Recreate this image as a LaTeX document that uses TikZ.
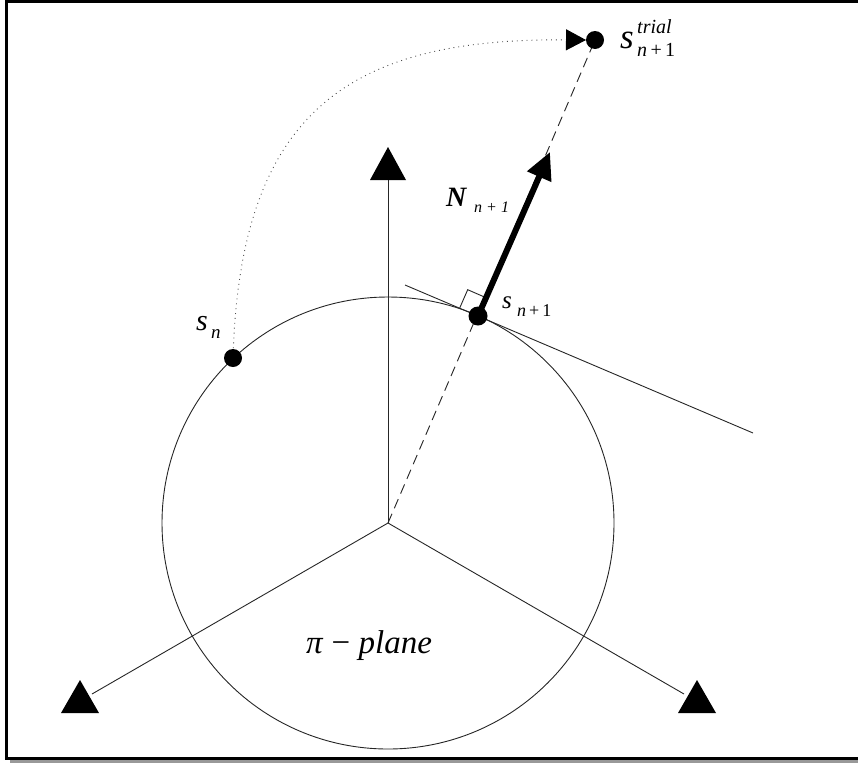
\documentclass[tikz,border=0pt]{standalone}
\usepackage{fontspec}
\setmainfont{Liberation Serif}
\usetikzlibrary{arrows.meta,calc}
\begin{document}
\begin{tikzpicture}[x=1pt,y=-1pt,
  thinline/.style={line width=0.9pt, draw=black!85},
  dot/.style={circle, fill=black, inner sep=0pt, minimum size=19pt},
  lbl/.style={inner sep=0pt, anchor=base west},
  tri/.style={fill=black}
]
\useasboundingbox (0,0) rectangle (858,763);
% frame with shadow
\fill[black!40] (10,759.5) rectangle (862,763);
\draw[line width=3pt] (6,1) rectangle (860,758);

\coordinate (O) at (388,523);
\coordinate (P) at (478,316);
\coordinate (Sn) at (233,358);
\coordinate (T) at (595,40);
\coordinate (Aup) at (388,180);
\coordinate (All) at (92,694);
\coordinate (Alr) at (684,694);
\coordinate (TanA) at (405,285);
\coordinate (TanB) at (753,433);
\coordinate (Ntip) at (550,152);

% circle
\draw[thinline] (O) circle[radius=226];
% axes
\draw[thinline] (O) -- (Aup);
\draw[thinline] (O) -- (All);
\draw[thinline] (O) -- (Alr);
\fill[tri] (388,147) -- (406,180) -- (370,180) -- cycle;
\fill[tri] (80,680) -- (99,713) -- (61,713) -- cycle;
\fill[tri] (697,680) -- (716,713) -- (678,713) -- cycle;
% tangent
\draw[thinline] (TanA) -- (TanB);
% dashed radial line
\draw[thinline, dash pattern=on 10pt off 6pt] (O) -- (T);
% right angle mark
\draw[thinline] (459.7,308) -- (467.7,289.7) -- (486,297.7);
% normal arrow
\draw[line width=6pt, -{Triangle[length=27pt,width=25pt]}] (P) -- (Ntip);
% dotted path
\draw[line width=0.9pt, draw=black!70, dash pattern=on 0.9pt off 4pt,
  -{Triangle[length=20pt,width=21pt,color=black,fill=black]}]
  (Sn) .. controls (240,109) and (352,38) .. (586,40);
% dots
\node[dot] (dP) at (P) {};
\node[dot, minimum size=18pt] (dSn) at (Sn) {};
\node[dot, minimum size=18pt] (dT) at (T) {};
% labels
\node[lbl] (lSn) at (196,330) {\fontsize{30}{30}\selectfont\textit{s}};
\node[lbl] (lSnsub) at (211,338) {\fontsize{19}{19}\selectfont\textit{n}};
\node[lbl] (lTs) at (620,48) {\fontsize{35}{35}\selectfont\textit{s}};
\node[lbl] (lTsup) at (637,33) {\fontsize{20}{20}\selectfont\textit{trial}};
\node[lbl] (lTsub) at (637,56) {\fontsize{20}{20}\selectfont\textit{n}\,+\,1};
\node[lbl] (lN) at (446,206) {\fontsize{28}{28}\selectfont\textbf{\textit{N}}};
\node[lbl] (lNsub) at (474,212) {\fontsize{16}{16}\selectfont\textit{n + 1}};
\node[lbl] (lP) at (502,308) {\fontsize{25}{25}\selectfont\textit{s}};
\node[lbl] (lPsub) at (517,316) {\fontsize{18}{18}\selectfont\textit{n}\,+\,1};
\node[lbl] (lPi) at (306,653) {\fontsize{33}{33}\selectfont\textit{π} − \textit{plane}};
\end{tikzpicture}
\end{document}
